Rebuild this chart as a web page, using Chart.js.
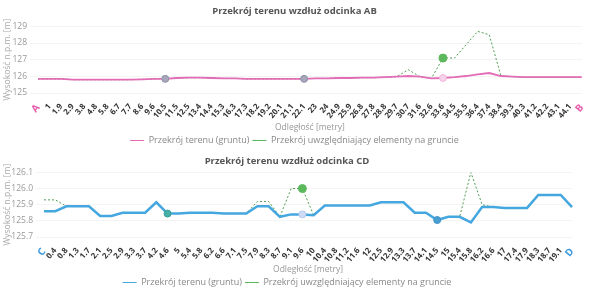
<!DOCTYPE html>
<html>
<head>
    <meta charset="UTF-8">
    <title>Przekrój terenu</title>
    <style>
        body { margin: 0; background: #fff; }
        .chart-box { width: 592px; line-height: 0; }
    </style>
    <script src="https://cdn.jsdelivr.net/npm/chart.js"></script>
</head>
<body>
<div class="chart-box"><canvas id="chartAB" width="592" height="147"></canvas></div>
<div class="chart-box"><canvas id="chartCD" width="592" height="142"></canvas></div>
<script>
    // --- odcinek AB ---
    const labelsAB = ['A', '1', '1.9', '2.9', '3.8', '4.8', '5.8', '6.7', '7.7', '8.6', '9.6', '10.5', '11.5', '12.5',
        '13.4', '14.4', '15.3', '16.3', '17.3', '18.2', '19.2', '20.1', '21.1', '22.1', '23', '24', '24.9', '25.9',
        '26.8', '27.8', '28.8', '29.7', '30.7', '31.6', '32.6', '33.6', '34.5', '35.5', '36.4', '37.4', '38.4',
        '39.3', '40.3', '41.2', '42.2', '43.1', '44.1', 'B'];
    const groundAB = [125.85, 125.85, 125.85, 125.8, 125.8, 125.8, 125.8, 125.8, 125.8, 125.82, 125.85, 125.85,
        125.9, 125.92, 125.92, 125.9, 125.88, 125.88, 125.85, 125.85, 125.85, 125.85, 125.85, 125.85, 125.88,
        125.88, 125.9, 125.9, 125.92, 125.92, 125.95, 125.98, 126.02, 125.98, 125.88, 125.9, 125.95, 126.02,
        126.12, 126.2, 126.02, 125.98, 125.95, 125.95, 125.95, 125.95, 125.95, 125.95];
    const objectsAB = [125.85, 125.85, 125.85, 125.8, 125.8, 125.8, 125.8, 125.8, 125.8, 125.82, 125.85, 125.85,
        125.9, 125.92, 125.92, 125.9, 125.88, 125.88, 125.85, 125.85, 125.85, 125.85, 125.85, 125.85, 125.88,
        125.88, 125.9, 125.9, 125.92, 125.92, 125.95, 125.98, 126.4, 125.98, 125.88, 127.1, 127.1, 127.9,
        128.7, 128.5, 126.05, 125.98, 125.95, 125.95, 125.95, 125.95, 125.95, 125.95];

    // --- odcinek CD ---
    const labelsCD = ['C', '0.4', '0.8', '1.3', '1.7', '2.1', '2.5', '2.9', '3.3', '3.7', '4.2', '4.6', '5', '5.4',
        '5.8', '6.2', '6.6', '7.1', '7.5', '7.9', '8.3', '8.7', '9.1', '9.6', '10', '10.4', '10.8', '11.2', '11.6',
        '12', '12.5', '12.9', '13.3', '13.7', '14.1', '14.5', '15', '15.4', '15.8', '16.2', '16.6', '17', '17.4',
        '17.9', '18.3', '18.7', '19.1', 'D'];
    const groundCD = [125.86, 125.86, 125.89, 125.89, 125.89, 125.83, 125.83, 125.85, 125.85, 125.85, 125.915,
        125.845, 125.845, 125.85, 125.85, 125.85, 125.845, 125.845, 125.845, 125.89, 125.89, 125.825, 125.84,
        125.84, 125.835, 125.895, 125.895, 125.895, 125.895, 125.895, 125.915, 125.915, 125.915, 125.85, 125.85,
        125.805, 125.825, 125.825, 125.79, 125.885, 125.885, 125.88, 125.88, 125.88, 125.96, 125.96, 125.96,
        125.885];
    const objectsCD = [125.93, 125.93, 125.89, 125.89, 125.89, 125.83, 125.83, 125.85, 125.85, 125.85, 125.915,
        125.845, 125.845, 125.85, 125.85, 125.85, 125.845, 125.845, 125.845, 125.92, 125.92, 125.825, 126.0,
        126.0, 125.835, 125.895, 125.895, 125.895, 125.895, 125.895, 125.915, 125.915, 125.915, 125.85, 125.85,
        125.805, 125.825, 125.825, 126.1, 125.9, 125.885, 125.88, 125.88, 125.88, 125.96, 125.96, 125.96,
        125.885];

    // indeksy punktów wyróżnionych na wykresie
    const markedGround = [11, 23, 35];
    const markedObjectsAB = [35];
    const markedObjectsCD = [23];

    const FONT = '"Open Sans", "DejaVu Sans", sans-serif';

    // legenda ma byc niska, bez domyslnego odstepu 10px
    const legendHeight = {
        id: 'legendHeight',
        beforeInit(chart) {
            const fit = chart.legend.fit;
            chart.legend.fit = function () {
                fit.call(this);
                this.height = 14;
            };
        }
    };

    function makeChart(id, opts) {
        const ctx = document.getElementById(id).getContext('2d');
        const last = opts.labels.length - 1;
        return new Chart(ctx, {
            type: 'line',
            plugins: [legendHeight],
            data: {
                labels: opts.labels,
                datasets: [{
                    label: 'Przekrój terenu (gruntu)',
                    data: opts.ground,
                    borderColor: opts.groundColor,
                    backgroundColor: opts.groundColor,
                    borderWidth: opts.groundWidth,
                    tension: 0,
                    pointRadius: c => markedGround.includes(c.dataIndex) ? 3.5 : 0,
                    pointBackgroundColor: c => opts.markFill[markedGround.indexOf(c.dataIndex)] || opts.groundColor,
                    pointBorderColor: c => opts.markBorder[markedGround.indexOf(c.dataIndex)] || opts.groundColor,
                    pointBorderWidth: 1
                }, {
                    label: 'Przekrój uwzględniający elementy na gruncie',
                    data: opts.objects,
                    borderColor: '#4f9d55',
                    backgroundColor: '#4f9d55',
                    borderWidth: 1,
                    borderDash: [2, 2],
                    tension: 0,
                    pointRadius: c => opts.markedObjects.includes(c.dataIndex) ? 4 : 0,
                    pointBackgroundColor: '#5cb85c',
                    pointBorderColor: '#5cb85c'
                }]
            },
            options: {
                responsive: false,
                animation: false,
                layout: { padding: { left: 2, right: opts.padRight, top: 0, bottom: 0 } },
                plugins: {
                    title: {
                        display: true,
                        text: opts.title,
                        color: '#555',
                        font: { family: FONT, size: 9.5, weight: 'bold' },
                        padding: opts.titlePad
                    },
                    legend: {
                        position: 'bottom',
                        labels: {
                            usePointStyle: true,
                            pointStyle: 'line',
                            pointStyleWidth: 14,
                            padding: 3,
                            color: '#888',
                            font: { family: FONT, size: 9 }
                        }
                    },
                    tooltip: { enabled: false }
                },
                scales: {
                    x: {
                        afterFit: s => { s.height = opts.xHeight; },
                        grid: { display: false },
                        border: { display: false },
                        title: {
                            display: true,
                            text: 'Odległość [metry]',
                            color: '#999',
                            font: { family: FONT, size: 8.5 },
                            padding: { top: 0, bottom: 0 }
                        },
                        ticks: {
                            autoSkip: false,
                            minRotation: 50,
                            maxRotation: 50,
                            padding: 1,
                            color: c => (c.index === 0 || c.index === last) ? opts.endColor : '#333',
                            font: c => ({
                                family: FONT,
                                size: (c.index === 0 || c.index === last) ? 10 : 8,
                                weight: 'bold'
                            })
                        }
                    },
                    y: {
                        min: opts.yMin,
                        max: opts.yMax,
                        afterFit: s => { s.width = opts.yWidth; },
                        grid: { color: '#f4f4f4' },
                        border: { display: false },
                        title: {
                            display: true,
                            text: 'Wysokość n.p.m. [m]',
                            color: '#aaa',
                            font: { family: FONT, size: 8.5 },
                            padding: { top: 0, bottom: 2 }
                        },
                        ticks: {
                            stepSize: opts.step,
                            color: '#999',
                            padding: 3,
                            font: { family: FONT, size: 8.5 },
                            callback: v => opts.step < 1 ? v.toFixed(1) : v
                        }
                    }
                }
            }
        });
    }

    window.onload = function () {
        makeChart('chartAB', {
            title: 'Przekrój terenu wzdłuż odcinka AB',
            labels: labelsAB, ground: groundAB, objects: objectsAB,
            markedObjects: markedObjectsAB,
            groundColor: '#e26cb5', groundWidth: 1.8, endColor: '#e85aaa',
            markFill: ['#a7a7bb', '#a7a7bb', '#f6d3ea'],
            markBorder: ['#9090a8', '#9090a8', '#f0b6da'],
            yMin: 125, yMax: 129, step: 1,
            padRight: 5, yWidth: 36, xHeight: 40,
            titlePad: { top: 6, bottom: 9 }
        });
        makeChart('chartCD', {
            title: 'Przekrój terenu wzdłuż odcinka CD',
            labels: labelsCD, ground: groundCD, objects: objectsCD,
            markedObjects: markedObjectsCD,
            groundColor: '#45a7e0', groundWidth: 2.5, endColor: '#3d9be0',
            markFill: ['#46b0a8', '#cfdcf6', '#4a9fd2'],
            markBorder: ['#3a9f98', '#b7c8f0', '#3f93c8'],
            yMin: 125.7, yMax: 126.1, step: 0.1,
            padRight: 20, yWidth: 42, xHeight: 38,
            titlePad: { top: 9, bottom: 5 }
        });
    };
</script>
</body>
</html>
